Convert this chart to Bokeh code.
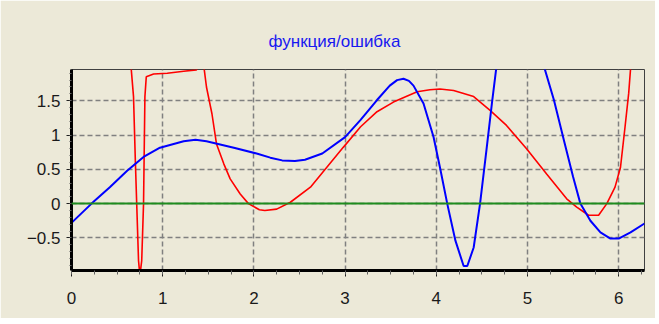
import numpy as np
from bokeh.plotting import figure
from bokeh.models import Range1d, SingleIntervalTicker, Span
from bokeh.embed import file_html
from bokeh.resources import INLINE

title_text = "функция/ошибка"

# blue curve: function
blue_x = [0.0, 0.22, 0.42, 0.61, 0.79, 0.97, 1.23, 1.36, 1.48, 1.78, 2.03, 2.18, 2.31, 2.45,
          2.56, 2.75, 3.0, 3.17, 3.35, 3.49, 3.57, 3.64, 3.70, 3.75, 3.86, 3.97, 4.04, 4.12,
          4.21, 4.30, 4.34, 4.41, 4.48, 4.55, 4.61, 4.66, 4.75, 4.9, 5.05, 5.15, 5.19, 5.29,
          5.40, 5.50, 5.58, 5.69, 5.80, 5.91, 6.0, 6.13, 6.283]
blue_y = [-0.28, 0.0, 0.24, 0.48, 0.68, 0.815, 0.91, 0.93, 0.91, 0.815, 0.73, 0.67, 0.63, 0.62,
          0.64, 0.73, 0.97, 1.22, 1.51, 1.72, 1.80, 1.82, 1.79, 1.72, 1.46, 0.97, 0.53, 0.0,
          -0.54, -0.91, -0.91, -0.64, 0.0, 0.78, 1.46, 2.0, 2.6, 3.0, 2.7, 2.2, 1.96, 1.51,
          0.92, 0.39, 0.0, -0.25, -0.42, -0.51, -0.51, -0.42, -0.29]

# red curve: error
red_x = [0.6, 0.655, 0.68, 0.70, 0.715, 0.735, 0.75, 0.77, 0.79, 0.805, 0.82, 0.90, 1.05, 1.23,
         1.37, 1.42, 1.455, 1.48, 1.54, 1.59, 1.67, 1.74, 1.85, 1.94, 2.06, 2.12, 2.25, 2.40,
         2.62, 2.80, 2.98, 3.17, 3.35, 3.53, 3.79, 3.93, 4.04, 4.19, 4.41, 4.59, 4.77, 4.99,
         5.21, 5.43, 5.54, 5.67, 5.78, 5.87, 5.96, 6.02, 6.07, 6.11, 6.13, 6.2, 6.283]
red_y = [3.0, 1.96, 1.56, 0.63, 0.0, -0.83, -1.05, -0.83, 0.0, 1.56, 1.85, 1.89, 1.90, 1.93,
         1.95, 2.05, 1.96, 1.70, 1.31, 0.87, 0.58, 0.36, 0.14, 0.0, -0.09, -0.10, -0.08, 0.02,
         0.24, 0.53, 0.82, 1.12, 1.34, 1.48, 1.63, 1.66, 1.67, 1.65, 1.56, 1.36, 1.14, 0.80,
         0.43, 0.07, -0.05, -0.17, -0.17, 0.0, 0.24, 0.53, 1.12, 1.61, 1.96, 3.0, 4.0]

baseline = 0.0
x_range = (0.0, 2 * np.pi)
y_range = (-0.975, 1.955)

BG = "#ECE9D8"
FONT = "Liberation Sans"

p = figure(width=655, height=318, output_backend="svg", toolbar_location=None,
           x_range=Range1d(*x_range), y_range=Range1d(*y_range),
           title=title_text,
           min_border_left=71, min_border_right=11, min_border_top=69, min_border_bottom=48)

p.background_fill_color = BG
p.border_fill_color = BG
p.outline_line_color = "#404040"
p.outline_line_width = 1

p.title.align = "left"
p.title.offset = 197
p.title.standoff = 38
p.title.text_font = FONT
p.title.text_font_size = "17px"
p.title.text_font_style = "normal"
p.title.text_color = "#1818F0"

p.xaxis.ticker = SingleIntervalTicker(interval=1, num_minor_ticks=4)
p.yaxis.ticker = SingleIntervalTicker(interval=0.5, num_minor_ticks=5)

for ax in (p.xaxis[0], p.yaxis[0]):
    ax.axis_line_color = "black"
    ax.axis_line_width = 3
    ax.major_tick_line_color = "#202020"
    ax.minor_tick_line_color = "#606060"
    ax.major_tick_in = 0
    ax.minor_tick_in = 0
    ax.major_label_text_font = FONT
    ax.major_label_text_font_size = "17px"
    ax.major_label_text_color = "#1a1a1a"

p.xaxis.major_tick_out = 6
p.xaxis.minor_tick_out = 4
p.xaxis.major_label_standoff = 15
p.yaxis.major_tick_out = 5
p.yaxis.minor_tick_out = 2
p.yaxis.major_label_standoff = 6

p.grid.grid_line_color = "#808080"
p.grid.grid_line_width = 1.5
p.grid.grid_line_dash = "5 3"

zero = Span(location=baseline, dimension="width", line_color="#1E8C1E", line_width=2)
p.add_layout(zero)

p.line(red_x, red_y, line_color="#FF0000", line_width=1.6)
p.line(blue_x, blue_y, line_color="#0000FF", line_width=2)

open("out.html", "w").write(file_html(p, INLINE))
